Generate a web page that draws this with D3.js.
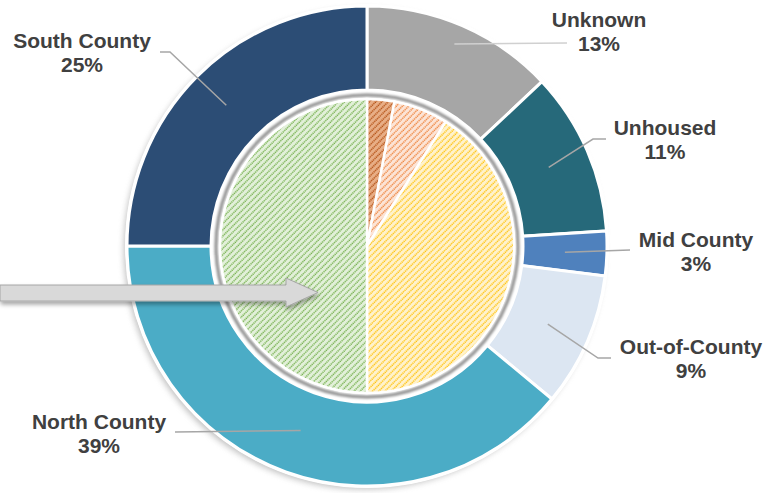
<!DOCTYPE html>
<html>
<head>
<meta charset="utf-8">
<script src="https://cdn.jsdelivr.net/npm/d3@7"></script>
<style>
  body { margin: 0; background: #fff; }
  text { font-family: "Liberation Sans", Arial, sans-serif; font-weight: bold; fill: #404040; }
</style>
</head>
<body>
<div id="chart"></div>
<script>
// outer ring: where people came from
var outerLabels = ["Unknown", "Unhoused", "Mid County", "Out-of-County", "North County", "South County"];
var outerValues = [13, 11, 3, 9, 39, 25];
var outerColors = ["#A6A6A6", "#26697A", "#4F81BD", "#DCE6F2", "#4BACC6", "#2C4D75"];

// inner pie (hatched, no labels)
var innerGroups = ["Group A", "Group B", "Group C", "Group D"];
var innerValues = [3, 6, 41, 50];
var innerLineColors = ["#B04A0C", "#ED7D31", "#FFC000", "#70AD47"];
var innerBgColors = ["#E8AE86", "#FCE4D6", "#FFF2CC", "#E2F0D9"];

var width = 780, height = 493;
var cx = 367, cy = 246;
var rOuter = 240, rInnerRing = 156, rPie = 147;

var svg = d3.select("#chart").append("svg")
    .attr("width", width)
    .attr("height", height);

var defs = svg.append("defs");

defs.append("filter").attr("id", "blur3")
    .attr("x", "-20%").attr("y", "-20%").attr("width", "140%").attr("height", "140%")
    .append("feGaussianBlur").attr("stdDeviation", 3);

defs.append("filter").attr("id", "blur1")
    .append("feGaussianBlur").attr("stdDeviation", 0.8);

var arrowShadow = defs.append("filter").attr("id", "arrowShadow")
    .attr("x", "-10%").attr("y", "-50%").attr("width", "120%").attr("height", "200%");
arrowShadow.append("feDropShadow")
    .attr("dx", 1).attr("dy", 3).attr("stdDeviation", 2)
    .attr("flood-color", "#000").attr("flood-opacity", 0.35);

// hatch patterns for the inner pie
innerGroups.forEach(function (g, i) {
    var p = defs.append("pattern")
        .attr("id", "hatch" + i)
        .attr("patternUnits", "userSpaceOnUse")
        .attr("width", 4.4).attr("height", 4)
        .attr("patternTransform", "rotate(45)");
    p.append("rect").attr("width", 4.4).attr("height", 4).attr("fill", innerBgColors[i]);
    p.append("line")
        .attr("x1", 1).attr("y1", 0).attr("x2", 1).attr("y2", 4)
        .attr("stroke", innerLineColors[i])
        .attr("stroke-width", 1.4)
        .attr("stroke-dasharray", "1.3,0.7");
});

var g = svg.append("g").attr("transform", "translate(" + cx + "," + cy + ")");

// soft shadow behind the outer ring
g.append("circle")
    .attr("cx", -3).attr("cy", 3)
    .attr("r", rOuter)
    .attr("fill", "#8a8a8a")
    .attr("opacity", 0.55)
    .attr("filter", "url(#blur3)");

var outerPie = d3.pie().sort(null).value(function (d) { return d; });
var outerArcs = outerPie(outerValues);
var outerArc = d3.arc().innerRadius(rInnerRing).outerRadius(rOuter);

g.selectAll("path.outer")
    .data(outerArcs)
    .enter()
    .append("path")
    .attr("class", "outer")
    .attr("d", outerArc)
    .attr("fill", function (d, i) { return outerColors[i]; })
    .attr("stroke", "#fff")
    .attr("stroke-width", 3);

// white edge round the whole ring
g.append("circle").attr("r", rOuter + 1)
    .attr("fill", "none").attr("stroke", "#fff").attr("stroke-width", 2);

// bevel between ring and pie
g.append("circle").attr("r", rInnerRing).attr("fill", "#fff");
g.append("circle").attr("r", 151)
    .attr("fill", "none").attr("stroke", "#9a9a9a").attr("stroke-width", 3.5)
    .attr("filter", "url(#blur1)");
g.append("circle").attr("r", rPie + 1).attr("fill", "#fff");

var innerPie = d3.pie().sort(null).value(function (d) { return d; });
var innerArc = d3.arc().innerRadius(0).outerRadius(rPie);

g.selectAll("path.inner")
    .data(innerPie(innerValues))
    .enter()
    .append("path")
    .attr("class", "inner")
    .attr("d", innerArc)
    .attr("fill", function (d, i) { return "url(#hatch" + i + ")"; })
    .attr("stroke", "#fff")
    .attr("stroke-width", 2.5)
    .attr("stroke-linejoin", "round");

// label layout: leader start radius, bend and end (relative to centre), text anchor point
var labelLayout = [
    { r: 220, bend: null, end: [200, -203], tx: 232, ty: -219 },
    { r: 198, bend: [226, -107], end: [239, -107], tx: 298, ty: -111 },
    { r: 198, bend: null, end: [263, 4], tx: 329, ty: 1 },
    { r: 197, bend: [231, 112], end: [244, 112], tx: 324, ty: 108 },
    { r: 196, bend: null, end: [-192, 186], tx: -268, ty: 183 },
    { r: 199, bend: [-197, -194], end: [-207, -194], tx: -285, ty: -198 }
];

outerArcs.forEach(function (d, i) {
    var L = labelLayout[i];
    var a = (d.startAngle + d.endAngle) / 2;
    var start = [Math.sin(a) * L.r, -Math.cos(a) * L.r];
    var pts = [start];
    if (L.bend) pts.push(L.bend);
    pts.push(L.end);
    g.append("path")
        .attr("d", d3.line()(pts))
        .attr("fill", "none")
        .attr("stroke", i === 0 ? "#D0D0D0" : "#A6A6A6")
        .attr("stroke-width", 1.5);

    var t = g.append("text")
        .attr("text-anchor", "middle")
        .attr("font-size", 21)
        .attr("x", L.tx).attr("y", L.ty);
    t.append("tspan").attr("x", L.tx).text(outerLabels[i]);
    t.append("tspan").attr("x", L.tx).attr("dy", 24).text(outerValues[i] + "%");
});

// block arrow pointing into the green slice
var arrowPts = [[0, 285], [286, 285], [286, 278], [318, 292.5], [286, 307], [286, 301], [0, 301]];
svg.append("path")
    .attr("d", d3.line()(arrowPts) + "Z")
    .attr("fill", "#D9D9D9")
    .attr("stroke", "#A6A6A6")
    .attr("stroke-width", 1)
    .attr("filter", "url(#arrowShadow)");
</script>
</body>
</html>
